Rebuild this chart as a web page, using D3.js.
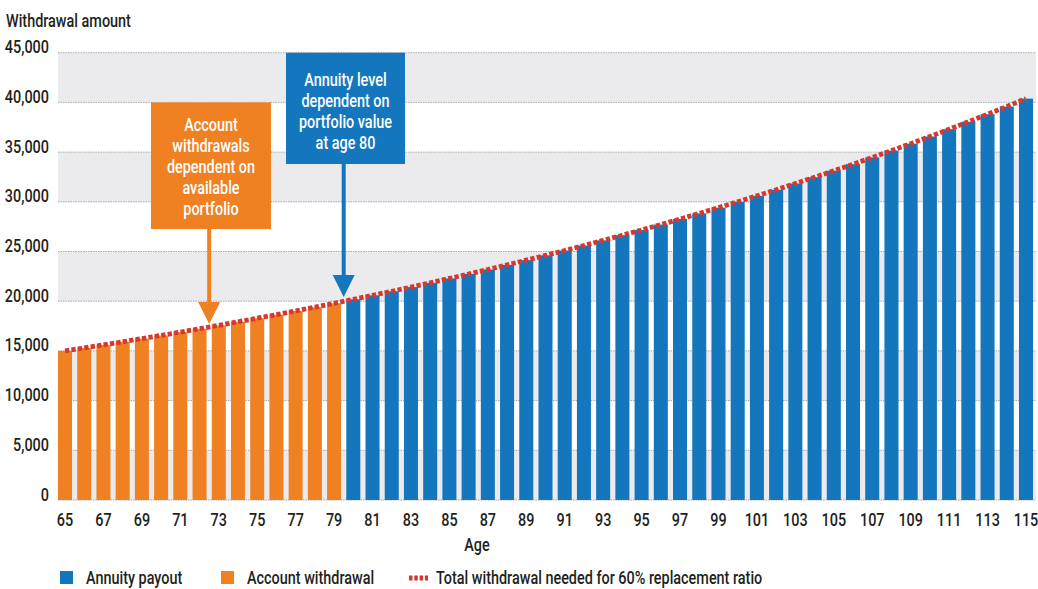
<!DOCTYPE html>
<html>
<head>
<meta charset="utf-8">
<script src="https://cdn.jsdelivr.net/npm/d3@7"></script>
<style>
  html, body { margin: 0; padding: 0; background: #fff; }
  svg text { font-family: Roboto, "Liberation Sans", sans-serif; font-weight: 500; }
</style>
</head>
<body>
<svg id="chart" width="1038" height="589"></svg>
<script>
// ---- data ----
const ages = d3.range(65, 116);
const totalNeeded = [
  15000, 15300, 15610, 15920, 16240, 16560, 16890, 17230, 17570, 17930,
  18290, 18650, 19020, 19400, 19790, 20190, 20590, 21000, 21420, 21850,
  22290, 22740, 23190, 23650, 24130, 24610, 25100, 25600, 26120, 26640,
  27170, 27710, 28270, 28830, 29410, 30000, 30600, 31210, 31840, 32470,
  33120, 33780, 34460, 35150, 35850, 36570, 37300, 38050, 38810, 39580,
  40380
];
const accountWithdrawal = totalNeeded.map((v, i) => ages[i] < 80 ? v : null);
const annuityPayout = totalNeeded.map((v, i) => ages[i] >= 80 ? v : null);
const yTicks = [0, 5000, 10000, 15000, 20000, 25000, 30000, 35000, 40000, 45000];
const xTicks = ages.filter(a => a % 2 === 1);
const legendItems = ["Annuity payout", "Account withdrawal", "Total withdrawal needed for 60% replacement ratio"];
const orangeNote = ["Account", "withdrawals", "dependent on", "available", "portfolio"];
const blueNote = ["Annuity level", "dependent on", "portfolio value", "at age 80"];

// ---- styles ----
const BLUE = "#1477be", ORANGE = "#f08122", RED = "#d6372e", BAND = "#ebebee", TEXT = "#231f20";
const FS = 18;

const svg = d3.select("#chart");
const x = d3.scaleBand().domain(ages).range([58, 1033]).paddingInner(0.27).paddingOuter(0);
const y = d3.scaleLinear().domain([0, 45000]).range([500, 52.7]);
const plotRight = 1036;

// background bands
const bands = yTicks.slice(0, -1).filter((d, i) => i % 2 === 0);
svg.append("g").selectAll("rect").data(bands).join("rect")
  .attr("x", 58).attr("width", plotRight - 58)
  .attr("y", d => y(d + 5000)).attr("height", d => y(d) - y(d + 5000))
  .attr("fill", BAND);

// grid lines
svg.append("g").selectAll("line").data(yTicks).join("line")
  .attr("x1", 58).attr("x2", plotRight)
  .attr("y1", d => y(d)).attr("y2", d => y(d))
  .attr("stroke", "#a9a9ad").attr("stroke-width", 1).attr("stroke-dasharray", "1.5,1");

// bars
const g = svg.append("g");
g.selectAll("rect.acc").data(ages.map((a, i) => ({a, v: accountWithdrawal[i]})).filter(d => d.v != null))
  .join("rect").attr("class", "acc")
  .attr("x", d => x(d.a)).attr("width", x.bandwidth())
  .attr("y", d => y(d.v)).attr("height", d => y(0) - y(d.v))
  .attr("fill", ORANGE);
g.selectAll("rect.ann").data(ages.map((a, i) => ({a, v: annuityPayout[i]})).filter(d => d.v != null))
  .join("rect").attr("class", "ann")
  .attr("x", d => x(d.a)).attr("width", x.bandwidth())
  .attr("y", d => y(d.v)).attr("height", d => y(0) - y(d.v))
  .attr("fill", BLUE);

// dotted total line
const line = d3.line().x((d, i) => x(ages[i]) + x.bandwidth() / 2).y(d => y(d));
svg.append("path").datum(totalNeeded)
  .attr("d", line).attr("fill", "none")
  .attr("stroke", RED).attr("stroke-width", 4.8).attr("stroke-dasharray", "4.3,2.2");

// axis titles
const title = svg.append("text").attr("x", 6).attr("y", 27).attr("font-size", FS).attr("fill", TEXT).text("Withdrawal amount");
// horizontal condensing factor so the fallback font matches the condensed original
const S = Math.min(1, 125 / title.node().getComputedTextLength());
function condense(sel) {
  sel.each(function () {
    const t = d3.select(this);
    const x0 = +t.attr("x") || 0;
    t.attr("transform", `translate(${x0},0) scale(${S},1) translate(${-x0},0)`);
  });
}
condense(title);
condense(svg.append("text").attr("x", 477).attr("y", 551).attr("text-anchor", "middle").attr("font-size", FS).attr("fill", TEXT).text("Age"));

// axes
const yAxis = svg.append("g").attr("transform", "translate(49,0)")
  .call(d3.axisLeft(y).tickValues(yTicks).tickFormat(d3.format(",")).tickSize(0).tickPadding(0));
yAxis.select(".domain").remove();
yAxis.selectAll("text").attr("dy", 0).attr("x", 0)
  .attr("font-size", FS).attr("fill", TEXT).call(condense);

const xAxis = svg.append("g").attr("transform", "translate(0,500)")
  .call(d3.axisBottom(x).tickValues(xTicks).tickSize(0).tickPadding(0));
xAxis.select(".domain").remove();
xAxis.selectAll("text").attr("y", 26).attr("dy", 0).attr("x", 0)
  .attr("font-size", FS).attr("fill", TEXT).call(condense);
svg.selectAll("g").attr("font-family", null);

// annotations
const gapX = a => x(a) - (x.step() - x.bandwidth()) / 2;
function note(lines, color, box, ax, tipY) {
  const ga = svg.append("g");
  ga.append("rect").attr("x", box.x0).attr("y", box.y0)
    .attr("width", box.x1 - box.x0).attr("height", box.y1 - box.y0).attr("fill", color);
  ga.append("line").attr("x1", ax).attr("x2", ax).attr("y1", box.y1).attr("y2", tipY - 20)
    .attr("stroke", color).attr("stroke-width", 4);
  ga.append("path").attr("d", `M${ax - 11},${tipY - 22}L${ax + 11},${tipY - 22}L${ax},${tipY}Z`).attr("fill", color);
  ga.selectAll("text").data(lines).join("text")
    .attr("x", (box.x0 + box.x1) / 2).attr("y", (d, i) => box.firstBase + i * 21)
    .attr("text-anchor", "middle").attr("font-size", FS).attr("fill", "#fff").text(d => d)
    .call(condense);
}
note(orangeNote, ORANGE, {x0: 151, x1: 271, y0: y(40000), y1: 229, firstBase: 131}, gapX(73), 324);
note(blueNote, BLUE, {x0: 286, x1: 405, y0: y(45000), y1: 164, firstBase: 86}, gapX(80), 297);

// legend
const lg = svg.append("g");
lg.append("rect").attr("x", 60).attr("y", 571).attr("width", 13).attr("height", 13).attr("fill", BLUE);
lg.append("text").attr("x", 86).attr("y", 584).attr("font-size", FS).attr("fill", TEXT).text(legendItems[0]).call(condense);
lg.append("rect").attr("x", 221).attr("y", 571).attr("width", 13).attr("height", 13).attr("fill", ORANGE);
lg.append("text").attr("x", 247).attr("y", 584).attr("font-size", FS).attr("fill", TEXT).text(legendItems[1]).call(condense);
lg.append("line").attr("x1", 409).attr("x2", 428).attr("y1", 578).attr("y2", 578)
  .attr("stroke", RED).attr("stroke-width", 4.8).attr("stroke-dasharray", "3.5,1.8");
lg.append("text").attr("x", 436).attr("y", 584).attr("font-size", FS).attr("fill", TEXT).text(legendItems[2]).call(condense);
</script>
</body>
</html>
